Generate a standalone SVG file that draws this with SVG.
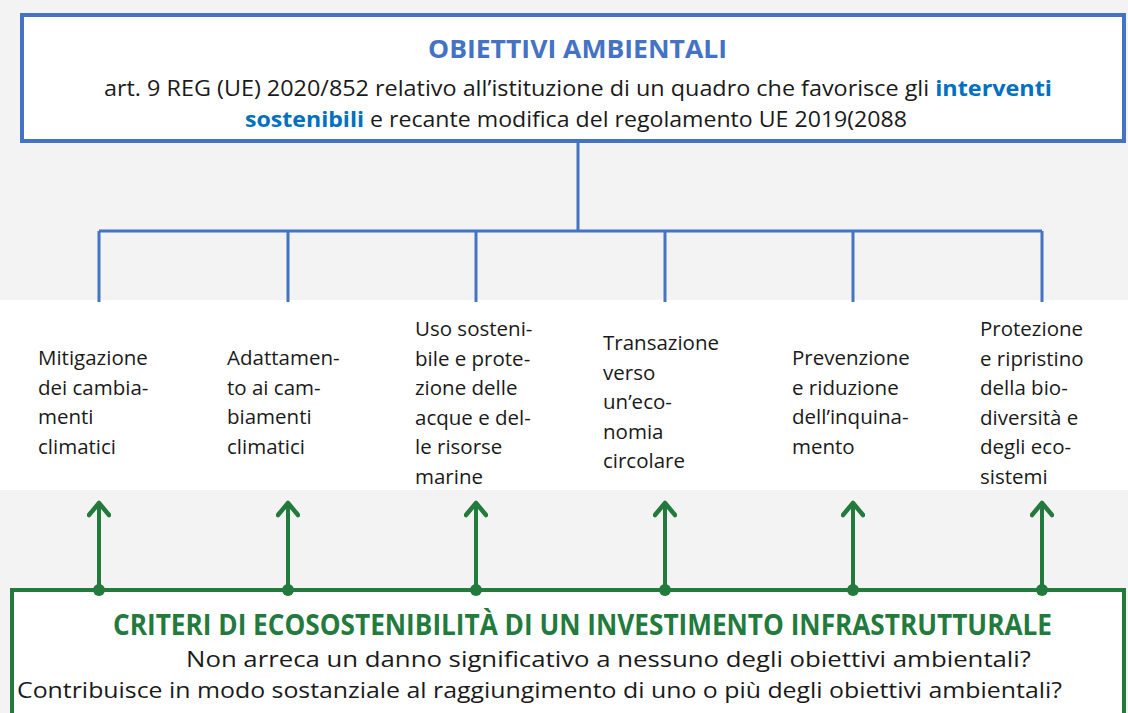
<svg xmlns="http://www.w3.org/2000/svg" width="1128" height="713" viewBox="0 0 1128 713">
<defs>
<style>
.bg{fill:#f3f3f3}
.box-b{fill:#fff;stroke:#4472c4;stroke-width:4}
.box-g{fill:#fff;stroke:#237a3d;stroke-width:4}
.blue{fill:none;stroke:#4472c4;stroke-width:3}
.green{fill:none;stroke:#237a3d;stroke-width:4}
.t{font-family:"Open Sans","Liberation Sans",sans-serif;fill:#1a1a1a}
.h1{font-weight:bold;fill:#4472c4}
.hl{font-weight:bold;fill:#0070c0}
.h2{font-weight:bold;fill:#237a3d}
.lbl{font-family:"Open Sans","Liberation Sans",sans-serif;fill:#1a1a1a;font-size:20.5px}
</style>
<marker id="ah" viewBox="0 0 20 24" refX="16" refY="12" markerWidth="20" markerHeight="24" markerUnits="userSpaceOnUse" orient="auto">
<path d="M4,2 L16,12 L4,22" fill="none" stroke="#237a3d" stroke-width="4.5" stroke-linecap="round" stroke-linejoin="round"/>
</marker>
</defs>
<rect class="bg" x="0" y="0" width="1128" height="713"/>
<rect x="0" y="300" width="1128" height="190" fill="#fff"/>

<g id="obiettivi">
<rect class="box-b" x="22" y="15" width="1102" height="126"/>
<text class="t h1" x="428" y="58" font-size="25" textLength="299" lengthAdjust="spacingAndGlyphs">OBIETTIVI AMBIENTALI</text>
<text class="t" x="104" y="96" font-size="21" textLength="948" lengthAdjust="spacingAndGlyphs">art. 9 REG (UE) 2020/852 relativo all’istituzione di un quadro che favorisce gli <tspan class="hl">interventi</tspan></text>
<text class="t" x="245" y="127" font-size="21" textLength="662" lengthAdjust="spacingAndGlyphs"><tspan class="hl">sostenibili</tspan> e recante modifica del regolamento UE 2019(2088</text>
</g>

<g id="connectors">
<path class="blue" d="M578,141 V231 M99,231 H1042 M99,231 V302 M288,231 V302 M476,231 V302 M665,231 V302 M853,231 V302 M1042,231 V302"/>
<path class="green" marker-end="url(#ah)" d="M99,590 V503"/>
<path class="green" marker-end="url(#ah)" d="M288,590 V503"/>
<path class="green" marker-end="url(#ah)" d="M476,590 V503"/>
<path class="green" marker-end="url(#ah)" d="M665,590 V503"/>
<path class="green" marker-end="url(#ah)" d="M853,590 V503"/>
<path class="green" marker-end="url(#ah)" d="M1042,590 V503"/>
</g>

<g id="obj1"><text class="lbl" x="38" y="365"><tspan x="38">Mitigazione</tspan><tspan x="38" dy="29.5">dei cambia-</tspan><tspan x="38" dy="29.5">menti</tspan><tspan x="38" dy="29.5">climatici</tspan></text></g>
<g id="obj2"><text class="lbl" x="227" y="365"><tspan x="227">Adattamen-</tspan><tspan x="227" dy="29.5">to ai cam-</tspan><tspan x="227" dy="29.5">biamenti</tspan><tspan x="227" dy="29.5">climatici</tspan></text></g>
<g id="obj3"><text class="lbl" x="415" y="336"><tspan x="415">Uso sosteni-</tspan><tspan x="415" dy="29.5">bile e prote-</tspan><tspan x="415" dy="29.5">zione delle</tspan><tspan x="415" dy="29.5">acque e del-</tspan><tspan x="415" dy="29.5">le risorse</tspan><tspan x="415" dy="29.5">marine</tspan></text></g>
<g id="obj4"><text class="lbl" x="603" y="350"><tspan x="603">Transazione</tspan><tspan x="603" dy="29.5">verso</tspan><tspan x="603" dy="29.5">un’eco-</tspan><tspan x="603" dy="29.5">nomia</tspan><tspan x="603" dy="29.5">circolare</tspan></text></g>
<g id="obj5"><text class="lbl" x="792" y="365"><tspan x="792">Prevenzione</tspan><tspan x="792" dy="29.5">e riduzione</tspan><tspan x="792" dy="29.5">dell’inquina-</tspan><tspan x="792" dy="29.5">mento</tspan></text></g>
<g id="obj6"><text class="lbl" x="980" y="336"><tspan x="980">Protezione</tspan><tspan x="980" dy="29.5">e ripristino</tspan><tspan x="980" dy="29.5">della bio-</tspan><tspan x="980" dy="29.5">diversità e</tspan><tspan x="980" dy="29.5">degli eco-</tspan><tspan x="980" dy="29.5">sistemi</tspan></text></g>

<g id="criteri">
<path class="box-g" d="M12,715 V590 H1124 V715"/>
<text class="t h2" x="113" y="635" font-size="28" textLength="939" lengthAdjust="spacingAndGlyphs">CRITERI DI ECOSOSTENIBILITÀ DI UN INVESTIMENTO INFRASTRUTTURALE</text>
<text class="t" x="186" y="667" font-size="22" textLength="845" lengthAdjust="spacingAndGlyphs">Non arreca un danno significativo a nessuno degli obiettivi ambientali?</text>
<text class="t" x="17" y="698" font-size="22" textLength="1045" lengthAdjust="spacingAndGlyphs">Contribuisce in modo sostanziale al raggiungimento di uno o più degli obiettivi ambientali?</text>
</g>
<g id="dots" fill="#237a3d">
<circle cx="99" cy="590" r="6"/><circle cx="288" cy="590" r="6"/><circle cx="476" cy="590" r="6"/><circle cx="665" cy="590" r="6"/><circle cx="853" cy="590" r="6"/><circle cx="1042" cy="590" r="6"/>
</g>
</svg>
